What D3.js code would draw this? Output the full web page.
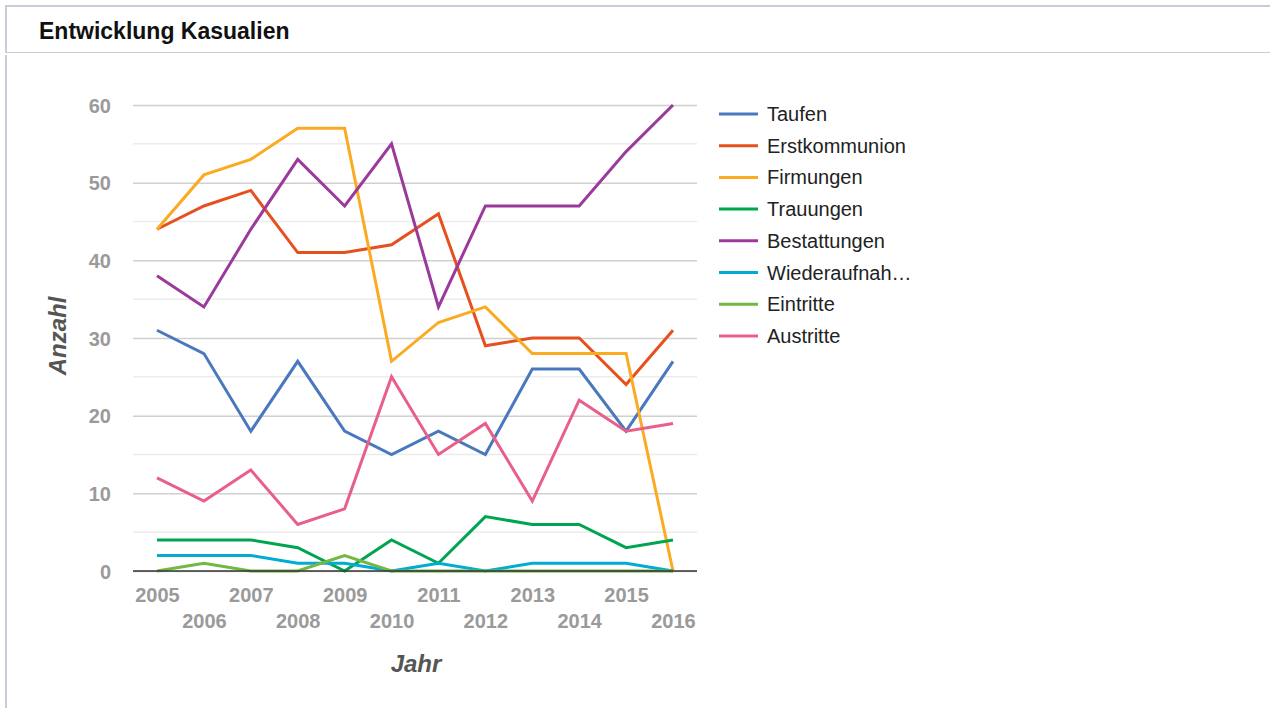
<!DOCTYPE html>
<html>
<head>
<meta charset="utf-8">
<script src="https://cdn.jsdelivr.net/npm/d3@7"></script>
<style>
  html, body { margin: 0; padding: 0; background: #fff; }
  body { width: 1270px; height: 708px; overflow: hidden; font-family: "Liberation Sans", Arial, sans-serif; }
</style>
</head>
<body>
<svg id="chart" width="1270" height="708"></svg>
<script>
// Jahre (Kategorien der x-Achse)
const years = [2005, 2006, 2007, 2008, 2009, 2010, 2011, 2012, 2013, 2014, 2015, 2016];

// Werte je Kasualie
const taufen          = [31, 28, 18, 27, 18, 15, 18, 15, 26, 26, 18, 27];
const erstkommunion   = [44, 47, 49, 41, 41, 42, 46, 29, 30, 30, 24, 31];
const firmungen       = [44, 51, 53, 57, 57, 27, 32, 34, 28, 28, 28, 0];
const trauungen       = [4, 4, 4, 3, 0, 4, 1, 7, 6, 6, 3, 4];
const bestattungen    = [38, 34, 44, 53, 47, 55, 34, 47, 47, 47, 54, 60];
const wiederaufnahmen = [2, 2, 2, 1, 1, 0, 1, 0, 1, 1, 1, 0];
const eintritte       = [0, 1, 0, 0, 2, 0, 0, 0, 0, 0, 0, 0];
const austritte       = [12, 9, 13, 6, 8, 25, 15, 19, 9, 22, 18, 19];

const seriesNames  = ["Taufen", "Erstkommunion", "Firmungen", "Trauungen", "Bestattungen", "Wiederaufnahmen", "Eintritte", "Austritte"];
const legendLabels = ["Taufen", "Erstkommunion", "Firmungen", "Trauungen", "Bestattungen", "Wiederaufnah\u2026", "Eintritte", "Austritte"];
const seriesColors = ["#4a78bf", "#e6501f", "#fbab22", "#00a54f", "#9b3a9a", "#00acd4", "#72b843", "#e8608a"];
const yTicks = [0, 10, 20, 30, 40, 50, 60];
const yMinorTicks = [5, 15, 25, 35, 45, 55];

const seriesValues = [taufen, erstkommunion, firmungen, trauungen, bestattungen, wiederaufnahmen, eintritte, austritte];
const series = seriesNames.map((name, i) => ({
  name, label: legendLabels[i], color: seriesColors[i],
  points: years.map((yr, j) => ({ year: yr, value: seriesValues[i][j] }))
}));

const svg = d3.select("#chart");

// Kartenrahmen und Kopfzeile
const frame = "#c8ccd8";
svg.append("line").attr("x1", 6).attr("x2", 1270).attr("y1", 6).attr("y2", 6)
  .attr("stroke", frame).attr("stroke-width", 2);
svg.append("line").attr("x1", 6).attr("x2", 6).attr("y1", 5).attr("y2", 53)
  .attr("stroke", frame).attr("stroke-width", 2);
svg.append("line").attr("x1", 6).attr("x2", 1270).attr("y1", 52.5).attr("y2", 52.5)
  .attr("stroke", frame).attr("stroke-width", 1);
svg.append("line").attr("x1", 6).attr("x2", 6).attr("y1", 55).attr("y2", 708)
  .attr("stroke", frame).attr("stroke-width", 2);
svg.append("text").attr("x", 39).attr("y", 39)
  .attr("font-size", 23).attr("font-weight", "bold").attr("fill", "#111")
  .text("Entwicklung Kasualien");

// Zeichenfläche
const plotLeft = 133, plotRight = 697, plotTop = 105, plotBottom = 571;
const x = d3.scalePoint().domain(years).range([157, 673]);
const y = d3.scaleLinear().domain([0, 60]).range([plotBottom, plotTop]);

const g = svg.append("g");

// Nebengitterlinien
g.selectAll("line.minor").data(yMinorTicks).join("line")
  .attr("class", "minor")
  .attr("x1", plotLeft).attr("x2", plotRight)
  .attr("y1", d => y(d)).attr("y2", d => y(d))
  .attr("stroke", "#ececec").attr("stroke-width", 1.5);

// y-Achse mit Hauptgitterlinien
const yAxis = d3.axisLeft(y).tickValues(yTicks).tickSize(-(plotRight - plotLeft)).tickPadding(22);
const yG = g.append("g").attr("transform", `translate(${plotLeft},0)`).call(yAxis);
yG.select(".domain").remove();
yG.selectAll(".tick line").attr("stroke", "#d0d0d0").attr("stroke-width", 1.5);
yG.selectAll(".tick text")
  .attr("font-family", "Liberation Sans, Arial, sans-serif")
  .attr("font-size", 20).attr("font-weight", "bold").attr("fill", "#9a9a9a")
  .attr("dy", "0.35em");

// x-Achse mit versetzten Beschriftungen
const xAxis = d3.axisBottom(x).tickSize(0).tickPadding(0);
const xG = g.append("g").attr("transform", `translate(0,${plotBottom})`).call(xAxis);
xG.select(".domain").remove();
xG.selectAll(".tick text")
  .attr("font-family", "Liberation Sans, Arial, sans-serif")
  .attr("font-size", 20).attr("font-weight", "bold").attr("fill", "#9a9a9a")
  .attr("dy", null)
  .attr("y", (d, i) => i % 2 === 0 ? 31 : 57);

// Linien
const line = d3.line().x(d => x(d.year)).y(d => y(d.value));
g.selectAll("path.series").data(series).join("path")
  .attr("class", "series")
  .attr("fill", "none")
  .attr("stroke", d => d.color)
  .attr("stroke-width", 3)
  .attr("stroke-linejoin", "miter")
  .attr("d", d => line(d.points));

// Nulllinie
g.append("line").attr("x1", plotLeft).attr("x2", plotRight)
  .attr("y1", y(0)).attr("y2", y(0))
  .attr("stroke", "#333").attr("stroke-width", 1.5);

// Achsentitel
svg.append("text")
  .attr("transform", `translate(66,336) rotate(-90)`)
  .attr("text-anchor", "middle")
  .attr("font-size", 24).attr("font-weight", "bold").attr("font-style", "italic")
  .attr("fill", "#555").text("Anzahl");
svg.append("text")
  .attr("x", 416).attr("y", 672)
  .attr("text-anchor", "middle")
  .attr("font-size", 24).attr("font-weight", "bold").attr("font-style", "italic")
  .attr("fill", "#555").text("Jahr");

// Legende
const legend = svg.append("g").selectAll("g").data(series).join("g")
  .attr("transform", (d, i) => `translate(719,${114 + i * 31.7})`);
legend.append("line").attr("x1", 0).attr("x2", 39).attr("y1", 0).attr("y2", 0)
  .attr("stroke", d => d.color).attr("stroke-width", 3);
legend.append("text").attr("x", 48).attr("y", 0).attr("dy", "0.35em")
  .attr("font-size", 20).attr("fill", "#222").text(d => d.label);
</script>
</body>
</html>
